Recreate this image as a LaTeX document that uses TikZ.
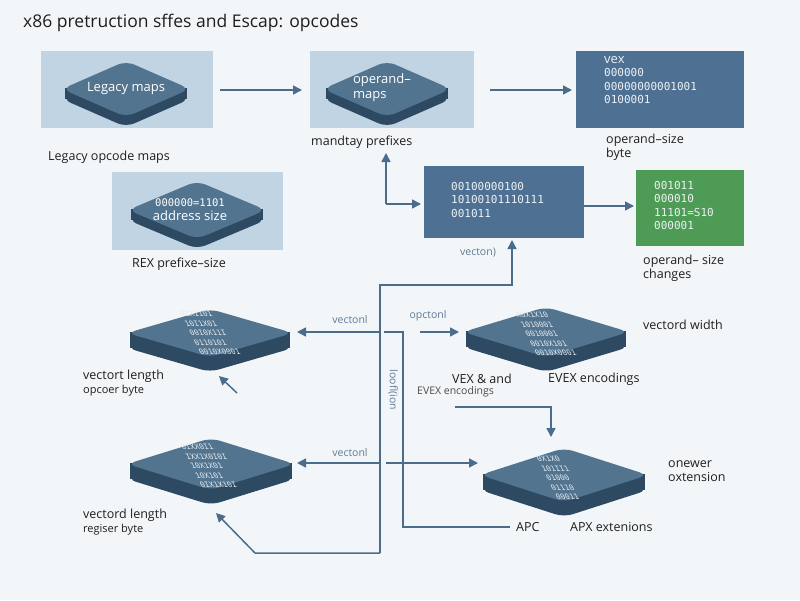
\documentclass[tikz,border=0pt]{standalone}
\usepackage{fontspec}
\setmainfont{Open Sans}
\newfontfamily\binfont{DejaVu Sans Mono}
\usetikzlibrary{arrows.meta}
\definecolor{bgc}{HTML}{F3F6F8}
\definecolor{panel}{HTML}{C1D4E4}
\definecolor{topc}{HTML}{52748F}
\definecolor{darkc}{HTML}{2E4A62}
\definecolor{boxc}{HTML}{4E7092}
\definecolor{greenc}{HTML}{4E9B56}
\definecolor{linec}{HTML}{4C6C8C}
\definecolor{txt}{HTML}{1E1E1E}
\tikzset{
  conn/.style={draw=linec,line width=1.5pt,-{Triangle[length=9pt,width=9pt]}},
  plain/.style={draw=linec,line width=1.5pt},
  lab/.style={font=\fontsize{12.5}{14}\selectfont,text=txt,align=left,inner sep=0pt},
  small/.style={font=\fontsize{10.5}{12}\selectfont,text=txt!80,align=left,inner sep=0pt},
  glab/.style={font=\fontsize{10.5}{12}\selectfont,text=linec!90,inner sep=0pt},
  bin/.style={font=\binfont\fontsize{11}{13.5}\selectfont,text=white!90!boxc,align=left,inner sep=0pt},
  dtext/.style={font=\fontsize{13}{15}\selectfont,text=white,align=left,inner sep=0pt},
  tiny/.style={font=\binfont\fontsize{7.5}{9.5}\selectfont,text=white!85!boxc,align=left,inner sep=0pt,xslant=-0.5},
}
\newcommand\isodia[5]{% cx cy halfw halfh thick
  \fill[darkc,rounded corners=9pt] (#1-#3,#2+#5) -- (#1,#2-#4+#5) -- (#1+#3,#2+#5) -- (#1,#2+#4+#5) -- cycle;
  \fill[darkc] (#1-#3+3,#2-1) rectangle (#1+#3-3,#2+#5);
  \fill[topc,rounded corners=9pt] (#1-#3,#2) -- (#1,#2-#4) -- (#1+#3,#2) -- (#1,#2+#4) -- cycle;
}
\begin{document}
\begin{tikzpicture}[x=1pt,y=-1pt]
\fill[bgc] (0,0) rectangle (800,600);
\useasboundingbox (0,0) rectangle (800,600);
\node[anchor=west,font=\fontsize{17.5}{19}\selectfont,text=txt,inner sep=0pt] (title) at (23,23) {x86 pretruction sffes and Escap: opcodes};
% panels
\fill[panel] (41,51) rectangle (213,128);
\fill[panel] (310,51) rectangle (474,128);
\fill[panel] (112,172) rectangle (283,250);
\isodia{126}{89}{64}{28}{10}
\node[dtext] (legacy) at (126,88) {Legacy maps};
\isodia{387}{89}{64}{28}{10}
\node[dtext] (opmaps) at (382,88) {operand–\\maps};
\isodia{197}{210}{69}{29}{10}
\node[dtext,align=center] (addr) at (190,210) {\binfont\fontsize{10.5}{12}\selectfont 000000=1101\\[-1pt]address size};
% boxes
\fill[boxc] (576,51) rectangle (744,128);
\node[bin,anchor=north west] (vex) at (604,56) {{\rmfamily\fontsize{13}{13}\selectfont vex}\\000000\\00000000001001\\0100001};
\fill[boxc] (424,166) rectangle (584,238);
\node[bin,anchor=north west] (mid) at (451,182) {00100000100\\10100101110111\\001011};
\coordinate (midE) at (584,206);
\coordinate (midS) at (512,240);
\fill[greenc] (636,170) rectangle (744,246);
\node[bin,anchor=north west] (green) at (654,181) {001011\\000010\\11101=S10\\000001};
\coordinate (greenW) at (634,206);
% labels top
\node[lab,anchor=west] (mand) at (311,142) {mandtay prefixes};
\node[lab,anchor=north west] (obyte) at (606,134) {operand–size\\byte};
\node[lab,anchor=west] (lom) at (48,157) {Legacy opcode maps};
\node[lab,anchor=west] (rex) at (132,264) {REX prefixe–size};
\node[lab,anchor=north west] (och) at (643,255) {operand– size\\changes};
% top arrows
\draw[conn] (220,90) -- (302,90);
\draw[conn] (490,90) -- (572,90);
\draw[conn] (midE) -- (greenW);
\draw[conn] (386,204) -- (386,153);
\draw[conn] (386,204) -- (421,204);
\node[glab] (vt) at (478,253) {vecton)};
% middle diamonds
\isodia{210}{333}{83}{24}{15}
\node[tiny] at (210,333) {01X1101\\10I1X01\\00I0X11I\\0110101\\0010X0001};
\isodia{546}{332}{83}{25}{15}
\node[tiny] at (546,334) {X0X1X10\\1010001\\0010001\\0010X101\\0010X0001};
\isodia{211}{464}{84}{26}{15}
\node[tiny] at (211,466) {0IXX0I1\\IXX1X0I0I\\10X1X01\\10X101\\0IX1X10I};
\isodia{564}{475}{84}{27}{15}
\node[tiny] at (560,478) {0X1X0\\101II1\\01000\\01110\\00011};
% main vertical line
\coordinate (v1t) at (380,285);
\coordinate (v1b) at (380,553);
\draw[conn] (v1b) -- (v1t) -- (512,285) -- (midS);
\draw[conn] (255,553) -- (v1b) (255,553) -- (216,513);
\draw[conn] (380,332) -- (297,332);
\node[glab] (vc1) at (350,320) {vectonl};
\draw[conn] (380,463) -- (297,463);
\node[glab] (vc2) at (350,453) {vectonl};
\draw[conn] (386,463) -- (478,463);
\draw[plain] (384,332) -- (403,332) -- (403,527) -- (510,527);
\node[lab,anchor=west] (apc) at (516,527) {APC};
\node[lab,anchor=west] (apx) at (570,527) {APX extenions};
\draw[conn] (420,332) -- (459,332);
\node[glab] (oc) at (428,316) {opctonl};
\node[glab,rotate=-90] (loc) at (393,390) {loofl(ion};
\draw[conn] (455,407) -- (551,407) -- (551,437);
\draw[conn] (237,393) -- (219,376);
% labels lower
\node[lab,anchor=west] (vw) at (643,325) {vectord width};
\node[lab,anchor=west] (vexand) at (452,379) {VEX \& and};
\node[lab,anchor=west] (evex) at (548,379) {EVEX encodings};
\node[small,anchor=west] (evex2) at (417,392) {EVEX encodings};
\node[lab,anchor=north west] (onew) at (668,460) {onewer\\oxtension};
\node[lab,anchor=north west] (vl1) at (83,370) {vectort length\\{\fontsize{11}{12}\selectfont opcoer byte}};
\node[lab,anchor=north west] (vl2) at (83,509) {vectord length\\{\fontsize{11}{12}\selectfont regiser byte}};
\end{tikzpicture}
\end{document}
